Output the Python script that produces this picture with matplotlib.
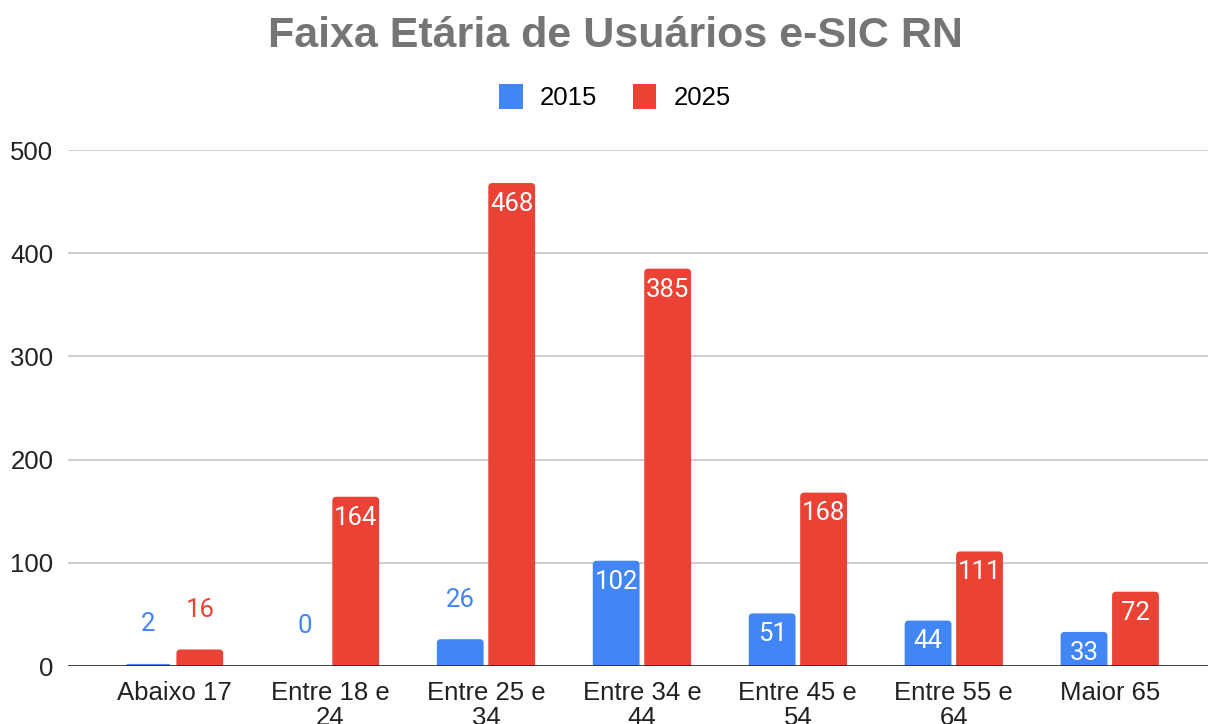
import matplotlib
matplotlib.use("Agg")
import matplotlib.pyplot as plt
from matplotlib.patches import FancyBboxPatch, Patch
import numpy as np

plt.rcParams['font.family'] = ['Liberation Sans', 'DejaVu Sans']

categories = ["Abaixo 17", "Entre 18 e\n24", "Entre 25 e\n34", "Entre 34 e\n44",
              "Entre 45 e\n54", "Entre 55 e\n64", "Maior 65"]
series_names = ["2015", "2025"]
values_2015 = [2, 0, 26, 102, 51, 44, 33]
values_2025 = [16, 164, 468, 385, 168, 111, 72]
yticks = [0, 100, 200, 300, 400, 500]

colors = ["#4285F4", "#EA4335"]

W, H = 1208, 724
fig = plt.figure(figsize=(W / 100, H / 100), dpi=100)
ax = fig.add_axes([68 / W, (H - 666) / H, 1 - 68 / W, (666 - 150) / H])

XMIN, XMAX, YMIN, YMAX = -0.68, 6.63, 0, 500
ax.set_xlim(XMIN, XMAX)
ax.set_ylim(YMIN, YMAX)
ax_w_px = (1 - 68 / W) * W
ax_h_px = (666 - 150)
xu_per_px = (XMAX - XMIN) / ax_w_px
yu_per_px = (YMAX - YMIN) / ax_h_px
aspect = yu_per_px / xu_per_px
rad = 4 * xu_per_px

x = np.arange(len(categories))
bw = 0.30
off = 0.165
FS = 18.5
LFS = 18.5
for vals, col, sgn, name in [(values_2015, colors[0], -1, series_names[0]),
                             (values_2025, colors[1], 1, series_names[1])]:
    bars = ax.bar(x + sgn * off, vals, width=bw, color=col, label=name, zorder=3)
    for b in bars:
        b.set_visible(False)
        ext = 12
        p = FancyBboxPatch((b.get_x(), -ext), b.get_width(), b.get_height() + ext,
                           boxstyle=f"round,pad=0,rounding_size={rad}",
                           mutation_aspect=aspect, facecolor=col, edgecolor="none",
                           zorder=3)
        ax.add_patch(p)
    for xi, v in zip(x + sgn * off, vals):
        if v >= 30:
            ax.annotate(str(v), (xi, v), xytext=(0, -15.0), textcoords="offset points",
                        ha="center", va="center", color="white", fontsize=LFS,
                        family=["Roboto", "DejaVu Sans"], zorder=4)
        else:
            ax.annotate(str(v), (xi, v), xytext=(0, 28.5), textcoords="offset points",
                        ha="center", va="center", color=col, fontsize=LFS,
                        family=["Roboto", "DejaVu Sans"], zorder=4)

ax.set_yticks(yticks)
ax.set_yticklabels([str(t) for t in yticks], fontsize=FS, color="#222222")
ax.set_xticks(x)
ax.set_xticklabels(categories, fontsize=FS, color="#222222", linespacing=1.02)
ax.tick_params(axis="both", length=0)
ax.tick_params(axis="x", pad=11)
ax.tick_params(axis="y", pad=10.5)
for s in ax.spines.values():
    s.set_visible(False)
ax.grid(axis="y", color="#cccccc", linewidth=1.3, zorder=0)
ax.axhline(0, color="#333333", linewidth=2, zorder=5)

fig.text(615 / W, 1 - 36 / H, "Faixa Etária de Usuários e-SIC RN", ha="center", va="center",
         fontsize=31, fontweight="bold", color="#757575")

handles = [Patch(facecolor=c, edgecolor="none") for c in colors]
leg = fig.legend(handles=handles, labels=series_names, loc="center",
                 bbox_to_anchor=(615 / W, 1 - 97 / H),
                 ncol=2, frameon=False, fontsize=FS, handlelength=0.93, handleheight=1.1,
                 handletextpad=0.66, columnspacing=1.36)

fig.savefig("out.png", dpi=100)
